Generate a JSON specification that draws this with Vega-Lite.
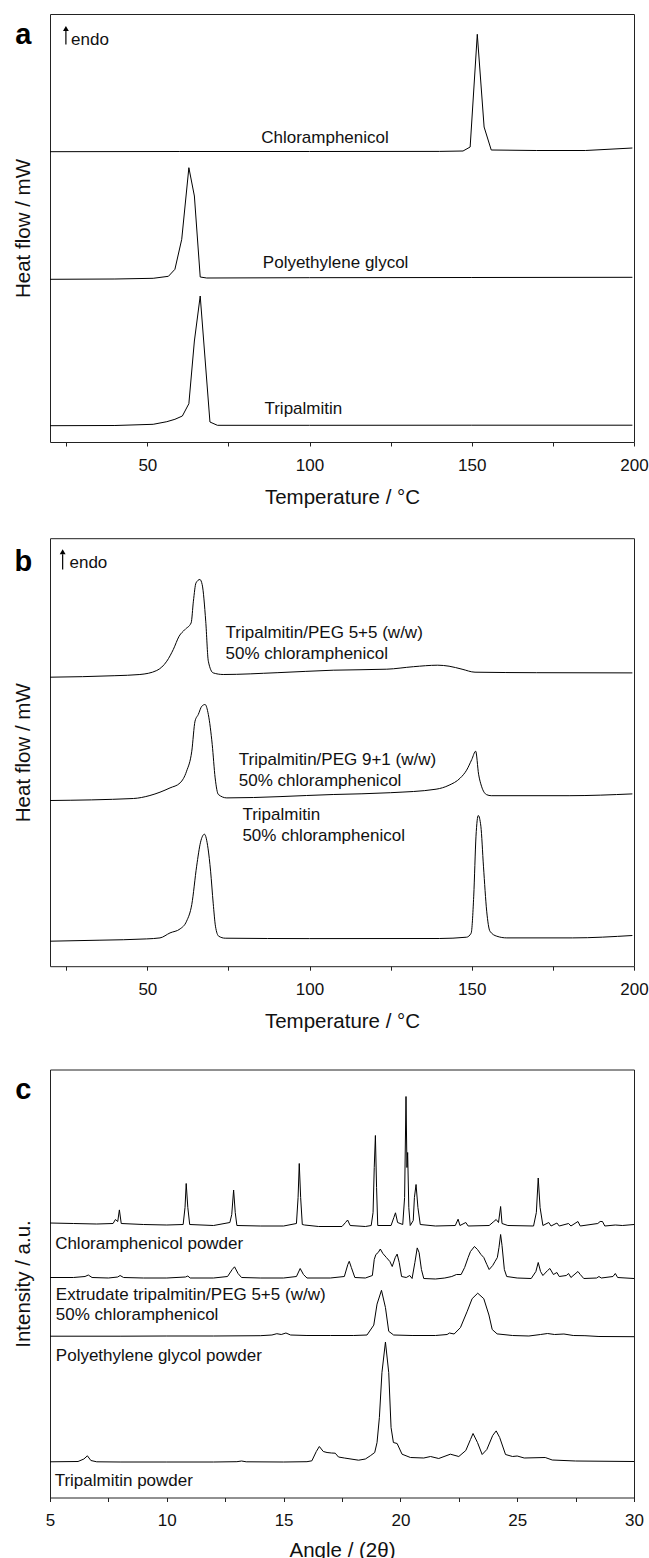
{
"$schema":"https://vega.github.io/schema/vega-lite/v6.json",
"background":"white",
"padding":{"left":13,"top":13,"right":0,"bottom":0},
"config":{
 "view":{"stroke":"#222","strokeWidth":1},
 "font":"Liberation Sans",
 "axis":{"grid":false,"domain":false,"tickColor":"#222","tickSize":4,"tickWidth":1,"labelFont":"Liberation Sans","labelFontSize":17,"labelColor":"#111","labelPadding":11,"labelFlush":false,"labelOverlap":false,"titleFont":"Liberation Sans","titleFontSize":20.5,"titleFontWeight":"normal","titleColor":"#111"},
 "axisX":{"titlePadding":14},
 "axisY":{"titlePadding":16.4,"labels":false,"ticks":false}
},
"datasets":{
 "a":[
  {"s":"chl","x":20,"y":290.3},{"s":"chl","x":60,"y":290.5},{"s":"chl","x":100,"y":290.5},{"s":"chl","x":140,"y":290.6},{"s":"chl","x":147.3,"y":291},{"s":"chl","x":149.5,"y":295},{"s":"chl","x":151.7,"y":407.7},{"s":"chl","x":153.8,"y":315},{"s":"chl","x":156,"y":292},{"s":"chl","x":170,"y":291.5},{"s":"chl","x":185,"y":291.5},{"s":"chl","x":199.5,"y":294},
  {"s":"peg","x":20,"y":162.7},{"s":"peg","x":40,"y":163},{"s":"peg","x":51.8,"y":163.7},{"s":"peg","x":56.5,"y":165.7},{"s":"peg","x":58.5,"y":172.7},{"s":"peg","x":60.6,"y":202.7},{"s":"peg","x":62.8,"y":274.3},{"s":"peg","x":64.5,"y":246},{"s":"peg","x":66.3,"y":165},{"s":"peg","x":68.3,"y":164},{"s":"peg","x":100,"y":164.3},{"s":"peg","x":150,"y":164.5},{"s":"peg","x":199.5,"y":164.7},
  {"s":"tri","x":20,"y":16.3},{"s":"tri","x":40,"y":16.5},{"s":"tri","x":51.8,"y":17.7},{"s":"tri","x":56,"y":20.3},{"s":"tri","x":58.5,"y":22.7},{"s":"tri","x":60.8,"y":26},{"s":"tri","x":62.8,"y":38.3},{"s":"tri","x":64.5,"y":101},{"s":"tri","x":66.3,"y":146},{"s":"tri","x":69.3,"y":20},{"s":"tri","x":71.6,"y":16.7},{"s":"tri","x":100,"y":16.7},{"s":"tri","x":150,"y":16.8},{"s":"tri","x":199.5,"y":16.8}
 ],
 "aText":[
  {"x":85.1,"y":299.3,"t":"Chloramphenicol"},
  {"x":85.6,"y":174.3,"t":"Polyethylene glycol"},
  {"x":86.1,"y":27.7,"t":"Tripalmitin"},
  {"x":26.5,"y":397.3,"t":"endo"}
 ],
 "aLetter":[{"x":11.8,"y":397.7,"t":"a"}],
 "aArrow":[{"x":24.9,"y":397.5,"y2":411}],
 "aHead":[{"x":24.9,"y":413.5}],
 "b":[
  {"s":"b1","x":20,"y":289},{"s":"b1","x":40,"y":290.5},{"s":"b1","x":47.7,"y":291.7},{"s":"b1","x":52.9,"y":295.7},{"s":"b1","x":56,"y":305},{"s":"b1","x":58,"y":316.7},{"s":"b1","x":59.8,"y":330},{"s":"b1","x":61.6,"y":336.7},{"s":"b1","x":63.5,"y":343.3},{"s":"b1","x":64.2,"y":365},{"s":"b1","x":65,"y":383.3},{"s":"b1","x":66.2,"y":386.7},{"s":"b1","x":66.9,"y":381.7},{"s":"b1","x":68,"y":345},{"s":"b1","x":68.8,"y":305},{"s":"b1","x":70.3,"y":293.3},{"s":"b1","x":73.4,"y":291.7},{"s":"b1","x":90,"y":293.5},{"s":"b1","x":107.3,"y":296},{"s":"b1","x":123.8,"y":297},{"s":"b1","x":132,"y":299.5},{"s":"b1","x":139.5,"y":301},{"s":"b1","x":143,"y":300},{"s":"b1","x":147,"y":297},{"s":"b1","x":151,"y":294},{"s":"b1","x":170,"y":293.5},{"s":"b1","x":199.5,"y":293.3},
  {"s":"b2","x":20,"y":165.7},{"s":"b2","x":45.7,"y":167.7},{"s":"b2","x":50.8,"y":170.7},{"s":"b2","x":53.9,"y":174},{"s":"b2","x":57,"y":178.3},{"s":"b2","x":60.1,"y":183.3},{"s":"b2","x":62.1,"y":195},{"s":"b2","x":63.7,"y":215},{"s":"b2","x":64.7,"y":245},{"s":"b2","x":65.7,"y":251.7},{"s":"b2","x":66.8,"y":260},{"s":"b2","x":67.8,"y":261.7},{"s":"b2","x":68.8,"y":251.7},{"s":"b2","x":70,"y":221.7},{"s":"b2","x":70.9,"y":188.3},{"s":"b2","x":71.9,"y":171.7},{"s":"b2","x":74.5,"y":168.3},{"s":"b2","x":107.3,"y":171.7},{"s":"b2","x":125,"y":173.5},{"s":"b2","x":139,"y":177},{"s":"b2","x":143,"y":181},{"s":"b2","x":146.4,"y":188},{"s":"b2","x":148.4,"y":196},{"s":"b2","x":150,"y":206.7},{"s":"b2","x":151.2,"y":215},{"s":"b2","x":152.1,"y":192},{"s":"b2","x":153,"y":180},{"s":"b2","x":154.6,"y":171.5},{"s":"b2","x":156,"y":170.5},{"s":"b2","x":180,"y":170.5},{"s":"b2","x":199.5,"y":172.3},
  {"s":"b3","x":20,"y":25},{"s":"b3","x":35.4,"y":26},{"s":"b3","x":49.8,"y":27.3},{"s":"b3","x":53.9,"y":28.3},{"s":"b3","x":57,"y":33.3},{"s":"b3","x":60.1,"y":37.3},{"s":"b3","x":62.1,"y":45},{"s":"b3","x":63.7,"y":61.7},{"s":"b3","x":65.2,"y":100},{"s":"b3","x":66.4,"y":124},{"s":"b3","x":67.6,"y":132},{"s":"b3","x":68.7,"y":118},{"s":"b3","x":69.5,"y":95},{"s":"b3","x":70.3,"y":63},{"s":"b3","x":71,"y":40},{"s":"b3","x":72,"y":30},{"s":"b3","x":74,"y":28},{"s":"b3","x":100,"y":27.6},{"s":"b3","x":140,"y":27.7},{"s":"b3","x":148.4,"y":29},{"s":"b3","x":149.8,"y":33},{"s":"b3","x":150.6,"y":70},{"s":"b3","x":151.3,"y":130},{"s":"b3","x":152,"y":150.7},{"s":"b3","x":152.8,"y":140},{"s":"b3","x":153.6,"y":100},{"s":"b3","x":154.6,"y":55},{"s":"b3","x":155.6,"y":35},{"s":"b3","x":157.7,"y":30},{"s":"b3","x":160.8,"y":28.3},{"s":"b3","x":181,"y":28.3},{"s":"b3","x":199.5,"y":30.7}
 ],
 "bText":[
  {"x":74.1,"y":328.3,"t":"Tripalmitin/PEG 5+5 (w/w)"},
  {"x":74.1,"y":307.7,"t":"50% chloramphenicol"},
  {"x":78.2,"y":201.7,"t":"Tripalmitin/PEG 9+1 (w/w)"},
  {"x":78.2,"y":180.7,"t":"50% chloramphenicol"},
  {"x":79.3,"y":146,"t":"Tripalmitin"},
  {"x":79.3,"y":125,"t":"50% chloramphenicol"},
  {"x":26,"y":398.3,"t":"endo"}
 ],
 "bLetter":[{"x":11.8,"y":395.7,"t":"b"}],
 "bArrow":[{"x":23.9,"y":396.7,"y2":412}],
 "bHead":[{"x":23.9,"y":414.5}],
 "c":[
  {"s":"c1","x":5,"y":274.5},{"s":"c1","x":6,"y":274},{"s":"c1","x":7,"y":273.5},{"s":"c1","x":7.7,"y":274},{"s":"c1","x":7.8,"y":278},{"s":"c1","x":7.9,"y":276},{"s":"c1","x":7.97,"y":287.6},{"s":"c1","x":8.05,"y":274},{"s":"c1","x":9,"y":273},{"s":"c1","x":10,"y":272.5},{"s":"c1","x":10.7,"y":273},{"s":"c1","x":10.78,"y":290},{"s":"c1","x":10.83,"y":314},{"s":"c1","x":10.9,"y":290},{"s":"c1","x":10.98,"y":273},{"s":"c1","x":12,"y":272},{"s":"c1","x":12.7,"y":275},{"s":"c1","x":12.78,"y":283},{"s":"c1","x":12.86,"y":307.5},{"s":"c1","x":12.93,"y":285},{"s":"c1","x":13,"y":272},{"s":"c1","x":14,"y":271.5},{"s":"c1","x":15,"y":271.5},{"s":"c1","x":15.55,"y":274},{"s":"c1","x":15.62,"y":300},{"s":"c1","x":15.67,"y":334},{"s":"c1","x":15.73,"y":300},{"s":"c1","x":15.8,"y":273},{"s":"c1","x":15.9,"y":272.5},{"s":"c1","x":16.5,"y":271},{"s":"c1","x":17.5,"y":271},{"s":"c1","x":17.65,"y":275},{"s":"c1","x":17.74,"y":277.5},{"s":"c1","x":17.85,"y":272},{"s":"c1","x":18.5,"y":271},{"s":"c1","x":18.75,"y":272},{"s":"c1","x":18.83,"y":285},{"s":"c1","x":18.88,"y":330},{"s":"c1","x":18.93,"y":362},{"s":"c1","x":18.98,"y":310},{"s":"c1","x":19.03,"y":272},{"s":"c1","x":19.6,"y":272},{"s":"c1","x":19.72,"y":280},{"s":"c1","x":19.79,"y":284.7},{"s":"c1","x":19.88,"y":275},{"s":"c1","x":20.1,"y":273},{"s":"c1","x":20.18,"y":300},{"s":"c1","x":20.24,"y":401},{"s":"c1","x":20.28,"y":330},{"s":"c1","x":20.31,"y":345},{"s":"c1","x":20.36,"y":290},{"s":"c1","x":20.42,"y":272},{"s":"c1","x":20.55,"y":277},{"s":"c1","x":20.6,"y":300},{"s":"c1","x":20.67,"y":313},{"s":"c1","x":20.75,"y":290},{"s":"c1","x":20.85,"y":273},{"s":"c1","x":21.5,"y":271.5},{"s":"c1","x":22.35,"y":272},{"s":"c1","x":22.47,"y":278.3},{"s":"c1","x":22.55,"y":272},{"s":"c1","x":22.8,"y":275},{"s":"c1","x":22.9,"y":271.5},{"s":"c1","x":23.8,"y":272},{"s":"c1","x":24.0,"y":276},{"s":"c1","x":24.1,"y":278},{"s":"c1","x":24.2,"y":275},{"s":"c1","x":24.29,"y":291},{"s":"c1","x":24.35,"y":274},{"s":"c1","x":24.6,"y":272},{"s":"c1","x":25.7,"y":271.5},{"s":"c1","x":25.82,"y":285},{"s":"c1","x":25.9,"y":319.5},{"s":"c1","x":25.98,"y":290},{"s":"c1","x":26.1,"y":272},{"s":"c1","x":26.35,"y":275},{"s":"c1","x":26.45,"y":271.5},{"s":"c1","x":26.7,"y":274.5},{"s":"c1","x":26.8,"y":271.5},{"s":"c1","x":27.2,"y":274},{"s":"c1","x":27.3,"y":271.5},{"s":"c1","x":27.6,"y":276},{"s":"c1","x":27.7,"y":271.5},{"s":"c1","x":28.45,"y":274},{"s":"c1","x":28.55,"y":276},{"s":"c1","x":28.65,"y":276},{"s":"c1","x":28.75,"y":271.5},{"s":"c1","x":29.2,"y":272.5},{"s":"c1","x":29.5,"y":272},{"s":"c1","x":30,"y":273},
  {"s":"c2","x":5,"y":220},{"s":"c2","x":6,"y":220},{"s":"c2","x":6.5,"y":221},{"s":"c2","x":6.64,"y":222.5},{"s":"c2","x":6.8,"y":220},{"s":"c2","x":7.5,"y":219.5},{"s":"c2","x":7.9,"y":220.5},{"s":"c2","x":8.0,"y":222},{"s":"c2","x":8.15,"y":220},{"s":"c2","x":9,"y":219.5},{"s":"c2","x":10,"y":219.5},{"s":"c2","x":10.8,"y":220.5},{"s":"c2","x":10.9,"y":221.5},{"s":"c2","x":11.0,"y":219.5},{"s":"c2","x":12,"y":219.5},{"s":"c2","x":12.6,"y":221},{"s":"c2","x":12.8,"y":228},{"s":"c2","x":12.9,"y":230.7},{"s":"c2","x":13.05,"y":224},{"s":"c2","x":13.2,"y":220},{"s":"c2","x":14,"y":219.5},{"s":"c2","x":15,"y":219.5},{"s":"c2","x":15.55,"y":221},{"s":"c2","x":15.71,"y":229},{"s":"c2","x":15.85,"y":223},{"s":"c2","x":16,"y":219.5},{"s":"c2","x":17,"y":219.5},{"s":"c2","x":17.6,"y":221},{"s":"c2","x":17.75,"y":233},{"s":"c2","x":17.81,"y":236.2},{"s":"c2","x":17.9,"y":230},{"s":"c2","x":18.05,"y":220},{"s":"c2","x":18.5,"y":219.5},{"s":"c2","x":18.8,"y":222},{"s":"c2","x":18.88,"y":238},{"s":"c2","x":18.95,"y":243},{"s":"c2","x":19.05,"y":245},{"s":"c2","x":19.14,"y":248.5},{"s":"c2","x":19.25,"y":244},{"s":"c2","x":19.4,"y":240},{"s":"c2","x":19.55,"y":236},{"s":"c2","x":19.65,"y":231},{"s":"c2","x":19.78,"y":240},{"s":"c2","x":19.86,"y":243.4},{"s":"c2","x":19.95,"y":235},{"s":"c2","x":20.05,"y":221},{"s":"c2","x":20.25,"y":220},{"s":"c2","x":20.4,"y":222},{"s":"c2","x":20.5,"y":219},{"s":"c2","x":20.62,"y":235},{"s":"c2","x":20.72,"y":249.6},{"s":"c2","x":20.8,"y":245},{"s":"c2","x":20.9,"y":228},{"s":"c2","x":21.0,"y":219},{"s":"c2","x":21.5,"y":218.5},{"s":"c2","x":21.9,"y":219.5},{"s":"c2","x":22.2,"y":221},{"s":"c2","x":22.4,"y":223},{"s":"c2","x":22.6,"y":223},{"s":"c2","x":22.75,"y":230},{"s":"c2","x":22.9,"y":240},{"s":"c2","x":23.0,"y":246},{"s":"c2","x":23.17,"y":251},{"s":"c2","x":23.3,"y":248},{"s":"c2","x":23.45,"y":243},{"s":"c2","x":23.57,"y":240},{"s":"c2","x":23.7,"y":233},{"s":"c2","x":23.8,"y":228},{"s":"c2","x":23.95,"y":232},{"s":"c2","x":24.05,"y":236},{"s":"c2","x":24.15,"y":240},{"s":"c2","x":24.22,"y":250},{"s":"c2","x":24.29,"y":263},{"s":"c2","x":24.35,"y":252},{"s":"c2","x":24.45,"y":228},{"s":"c2","x":24.55,"y":221},{"s":"c2","x":25,"y":219.5},{"s":"c2","x":25.6,"y":219},{"s":"c2","x":25.8,"y":226},{"s":"c2","x":25.9,"y":235},{"s":"c2","x":26.0,"y":226},{"s":"c2","x":26.1,"y":222},{"s":"c2","x":26.3,"y":227},{"s":"c2","x":26.4,"y":229},{"s":"c2","x":26.55,"y":223},{"s":"c2","x":26.7,"y":225},{"s":"c2","x":26.8,"y":221},{"s":"c2","x":27.1,"y":222},{"s":"c2","x":27.2,"y":224},{"s":"c2","x":27.3,"y":220},{"s":"c2","x":27.6,"y":226},{"s":"c2","x":27.7,"y":223},{"s":"c2","x":27.85,"y":219},{"s":"c2","x":28.4,"y":219.5},{"s":"c2","x":28.5,"y":221},{"s":"c2","x":28.6,"y":219.5},{"s":"c2","x":29.1,"y":221},{"s":"c2","x":29.2,"y":224},{"s":"c2","x":29.3,"y":220},{"s":"c2","x":30,"y":219},
  {"s":"c3","x":5,"y":161.3},{"s":"c3","x":8,"y":161.3},{"s":"c3","x":10,"y":161.5},{"s":"c3","x":12,"y":161.5},{"s":"c3","x":14,"y":161.8},{"s":"c3","x":14.5,"y":162.5},{"s":"c3","x":14.71,"y":163.8},{"s":"c3","x":14.9,"y":163},{"s":"c3","x":15.1,"y":164.5},{"s":"c3","x":15.3,"y":162.5},{"s":"c3","x":16,"y":162},{"s":"c3","x":17,"y":162},{"s":"c3","x":18,"y":162},{"s":"c3","x":18.57,"y":162.5},{"s":"c3","x":18.86,"y":172.4},{"s":"c3","x":19.0,"y":193.4},{"s":"c3","x":19.19,"y":207.2},{"s":"c3","x":19.36,"y":190},{"s":"c3","x":19.5,"y":166.2},{"s":"c3","x":19.71,"y":162.5},{"s":"c3","x":20.5,"y":162},{"s":"c3","x":21.5,"y":162},{"s":"c3","x":22.0,"y":163},{"s":"c3","x":22.1,"y":164.5},{"s":"c3","x":22.3,"y":163.5},{"s":"c3","x":22.57,"y":169.9},{"s":"c3","x":22.86,"y":186.2},{"s":"c3","x":23.07,"y":198.8},{"s":"c3","x":23.31,"y":204.3},{"s":"c3","x":23.57,"y":198.8},{"s":"c3","x":23.79,"y":182.5},{"s":"c3","x":23.93,"y":168},{"s":"c3","x":24.14,"y":163.6},{"s":"c3","x":24.8,"y":162},{"s":"c3","x":25.5,"y":161.5},{"s":"c3","x":26.0,"y":163},{"s":"c3","x":26.3,"y":164},{"s":"c3","x":26.6,"y":163},{"s":"c3","x":27.0,"y":163.5},{"s":"c3","x":27.4,"y":162},{"s":"c3","x":27.9,"y":161.8},{"s":"c3","x":28.5,"y":161},{"s":"c3","x":30,"y":160.8},
  {"s":"c4","x":5,"y":35.7},{"s":"c4","x":6.2,"y":36},{"s":"c4","x":6.45,"y":38.5},{"s":"c4","x":6.6,"y":41.7},{"s":"c4","x":6.75,"y":37},{"s":"c4","x":7,"y":35.7},{"s":"c4","x":8,"y":35.5},{"s":"c4","x":10,"y":35.5},{"s":"c4","x":12,"y":35.5},{"s":"c4","x":13,"y":35.8},{"s":"c4","x":13.2,"y":36.5},{"s":"c4","x":13.4,"y":35.7},{"s":"c4","x":15,"y":35.5},{"s":"c4","x":16,"y":35.8},{"s":"c4","x":16.21,"y":36.7},{"s":"c4","x":16.4,"y":46},{"s":"c4","x":16.53,"y":51},{"s":"c4","x":16.7,"y":46},{"s":"c4","x":16.86,"y":45},{"s":"c4","x":17.05,"y":44.5},{"s":"c4","x":17.21,"y":44.3},{"s":"c4","x":17.35,"y":40.5},{"s":"c4","x":17.6,"y":39.5},{"s":"c4","x":18.21,"y":37.3},{"s":"c4","x":18.5,"y":38.5},{"s":"c4","x":18.71,"y":41.7},{"s":"c4","x":18.9,"y":45},{"s":"c4","x":19.0,"y":55},{"s":"c4","x":19.1,"y":80},{"s":"c4","x":19.21,"y":125},{"s":"c4","x":19.36,"y":155.5},{"s":"c4","x":19.5,"y":125},{"s":"c4","x":19.6,"y":70},{"s":"c4","x":19.7,"y":55},{"s":"c4","x":19.86,"y":54},{"s":"c4","x":20.07,"y":43.3},{"s":"c4","x":20.43,"y":40},{"s":"c4","x":21,"y":39.5},{"s":"c4","x":21.29,"y":41},{"s":"c4","x":21.64,"y":39},{"s":"c4","x":22.14,"y":43.3},{"s":"c4","x":22.5,"y":41},{"s":"c4","x":22.8,"y":47},{"s":"c4","x":23.0,"y":58},{"s":"c4","x":23.11,"y":64},{"s":"c4","x":23.3,"y":55},{"s":"c4","x":23.5,"y":43},{"s":"c4","x":23.7,"y":48},{"s":"c4","x":23.95,"y":62},{"s":"c4","x":24.1,"y":66.6},{"s":"c4","x":24.25,"y":60},{"s":"c4","x":24.5,"y":43},{"s":"c4","x":24.8,"y":41},{"s":"c4","x":25.0,"y":41.5},{"s":"c4","x":25.3,"y":39.5},{"s":"c4","x":26.2,"y":40},{"s":"c4","x":26.5,"y":37.5},{"s":"c4","x":27.5,"y":36.5},{"s":"c4","x":30,"y":36}
 ],
 "cText":[
  {"x":5.22,"y":249,"t":"Chloramphenicol powder"},
  {"x":5.25,"y":197.3,"t":"Extrudate tripalmitin/PEG 5+5 (w/w)"},
  {"x":5.25,"y":178,"t":"50% chloramphenicol"},
  {"x":5.25,"y":136.8,"t":"Polyethylene glycol powder"},
  {"x":5.2,"y":12,"t":"Tripalmitin powder"}
 ],
 "cLetter":[{"x":3.856,"y":398.3,"t":"c"}]
},
"vconcat":[
 {"vconcat":[
  {"width":584,"height":428,
   "encoding":{
    "x":{"field":"x","type":"quantitative","scale":{"domain":[20,200],"nice":false,"zero":false},"axis":{"title":"Temperature / °C","values":[25,50,75,100,125,150,175,200],"labelExpr":"datum.value % 50 === 0 ? datum.label : ''"}},
    "y":{"field":"y","type":"quantitative","scale":{"domain":[0,428],"nice":false,"zero":false},"axis":{"title":"Heat flow / mW"}}
   },
   "layer":[
    {"data":{"name":"a"},"mark":{"type":"line","color":"#000","strokeWidth":1},"encoding":{"detail":{"field":"s"}}},
    {"data":{"name":"aText"},"mark":{"type":"text","align":"left","baseline":"alphabetic","fontSize":17,"color":"#111"},"encoding":{"text":{"field":"t"}}},
    {"data":{"name":"aLetter"},"mark":{"type":"text","align":"center","baseline":"alphabetic","fontSize":29,"fontWeight":"bold","color":"#000"},"encoding":{"text":{"field":"t"}}},
    {"data":{"name":"aArrow"},"mark":{"type":"rule","color":"#000","strokeWidth":1.2},"encoding":{"y2":{"field":"y2"}}},
    {"data":{"name":"aHead"},"mark":{"type":"point","shape":"triangle-up","filled":true,"size":34,"color":"#000","opacity":1},"encoding":{}}
   ]
  },
  {"width":584,"height":428,
   "encoding":{
    "x":{"field":"x","type":"quantitative","scale":{"domain":[20,200],"nice":false,"zero":false},"axis":{"title":"Temperature / °C","values":[25,50,75,100,125,150,175,200],"labelExpr":"datum.value % 50 === 0 ? datum.label : ''"}},
    "y":{"field":"y","type":"quantitative","scale":{"domain":[0,428],"nice":false,"zero":false},"axis":{"title":"Heat flow / mW"}}
   },
   "layer":[
    {"data":{"name":"b"},"mark":{"type":"line","color":"#000","strokeWidth":1,"interpolate":"monotone"},"encoding":{"detail":{"field":"s"}}},
    {"data":{"name":"bText"},"mark":{"type":"text","align":"left","baseline":"alphabetic","fontSize":17,"color":"#111"},"encoding":{"text":{"field":"t"}}},
    {"data":{"name":"bLetter"},"mark":{"type":"text","align":"center","baseline":"alphabetic","fontSize":29,"fontWeight":"bold","color":"#000"},"encoding":{"text":{"field":"t"}}},
    {"data":{"name":"bArrow"},"mark":{"type":"rule","color":"#000","strokeWidth":1.2},"encoding":{"y2":{"field":"y2"}}},
    {"data":{"name":"bHead"},"mark":{"type":"point","shape":"triangle-up","filled":true,"size":34,"color":"#000","opacity":1},"encoding":{}}
   ]
  }
 ],"spacing":29.2},
 {"width":584,"height":428,
  "encoding":{
   "x":{"field":"x","type":"quantitative","scale":{"domain":[5,30],"nice":false,"zero":false},"axis":{"title":"Angle / (2θ)","titlePadding":12,"values":[5,7.5,10,12.5,15,17.5,20,22.5,25,27.5,30],"labelExpr":"datum.value % 5 === 0 ? datum.label : ''"}},
   "y":{"field":"y","type":"quantitative","scale":{"domain":[0,428],"nice":false,"zero":false},"axis":{"title":"Intensity / a.u."}}
  },
  "layer":[
   {"data":{"name":"c"},"mark":{"type":"line","color":"#000","strokeWidth":1},"encoding":{"detail":{"field":"s"}}},
   {"data":{"name":"cText"},"mark":{"type":"text","align":"left","baseline":"alphabetic","fontSize":17,"color":"#111"},"encoding":{"text":{"field":"t"}}},
   {"data":{"name":"cLetter"},"mark":{"type":"text","align":"center","baseline":"alphabetic","fontSize":29,"fontWeight":"bold","color":"#000"},"encoding":{"text":{"field":"t"}}}
  ]
 }
],
"spacing":35.5
}
